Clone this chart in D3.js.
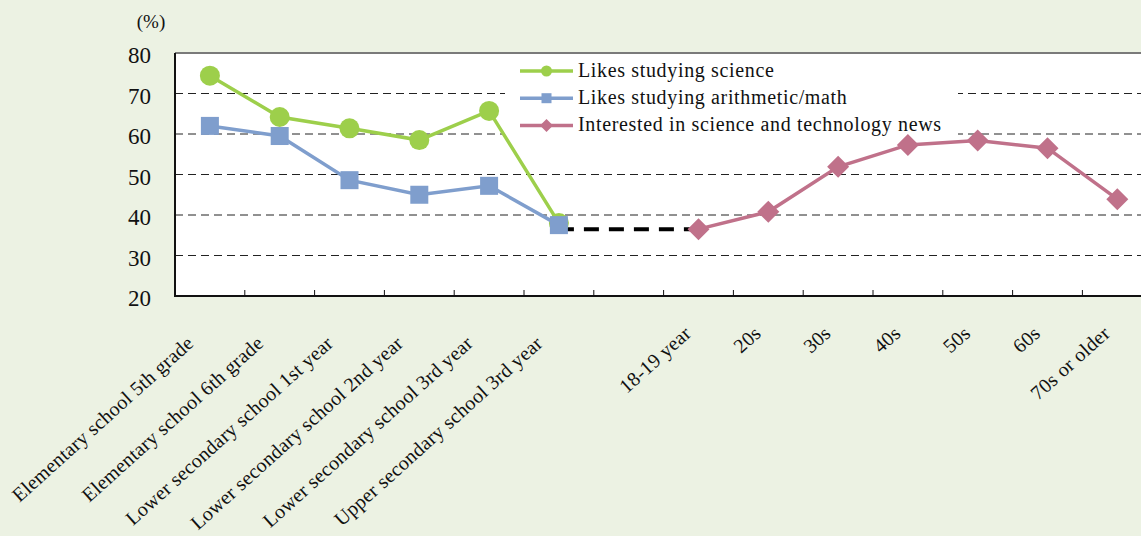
<!DOCTYPE html>
<html>
<head>
<meta charset="utf-8">
<script src="https://cdn.jsdelivr.net/npm/d3@7"></script>
<style>
  html, body { margin: 0; padding: 0; background: #ecf2e3; }
  svg { display: block; }
  text { font-family: "Liberation Serif", "Times New Roman", serif; fill: #111; }
</style>
</head>
<body>
<svg id="chart" width="1141" height="536"></svg>
<script>
// Categories along the x axis (one blank slot separates school years from adult age groups)
const categories = [
  "Elementary school 5th grade",
  "Elementary school 6th grade",
  "Lower secondary school 1st year",
  "Lower secondary school 2nd year",
  "Lower secondary school 3rd year",
  "Upper secondary school 3rd year",
  "",
  "18-19 year",
  "20s",
  "30s",
  "40s",
  "50s",
  "60s",
  "70s or older"
];

const schoolCats = categories.slice(0, 6);
const adultCats = categories.slice(7);

// Series values (%)
const likesScience = [74.4, 64.2, 61.4, 58.5, 65.7, 38.0];
const likesMath    = [62.0, 59.5, 48.6, 45.0, 47.2, 37.5];
const newsInterest = [36.5, 40.8, 51.9, 57.3, 58.4, 56.5, 43.9];

const yTicks = [20, 30, 40, 50, 60, 70, 80];
const gridValues = [30, 40, 50, 60, 70];

const seriesNames = [
  "Likes studying science",
  "Likes studying arithmetic/math",
  "Interested in science and technology news"
];

const colors = { science: "#9dcf4b", math: "#7f9ecd", news: "#c0718a" };
const serif = "'Liberation Serif', 'Times New Roman', serif";

const svg = d3.select("#chart");
const W = 1141, H = 536;
const plot = { left: 175, top: 53, bottom: 296, step: 69.8 };
plot.right = plot.left + plot.step * categories.length;

const x = d3.scaleBand().domain(categories.map((d, i) => i)).range([plot.left, plot.right]).paddingInner(0).paddingOuter(0);
const cx = i => x(i) + x.bandwidth() / 2;
const y = d3.scaleLinear().domain([20, 80]).range([plot.bottom, plot.top]);

// background
svg.append("rect").attr("width", W).attr("height", H).attr("fill", "#ecf2e3");

// plot area
svg.append("rect")
  .attr("x", plot.left).attr("y", plot.top)
  .attr("width", plot.right - plot.left).attr("height", plot.bottom - plot.top)
  .attr("fill", "#ffffff");

// top border of plot area
svg.append("line")
  .attr("x1", plot.left).attr("x2", plot.right)
  .attr("y1", plot.top).attr("y2", plot.top)
  .attr("stroke", "#7a7a7a").attr("stroke-width", 2);

// dashed gridlines
svg.append("g").selectAll("line").data(gridValues).join("line")
  .attr("x1", plot.left).attr("x2", plot.right)
  .attr("y1", d => y(d)).attr("y2", d => y(d))
  .attr("stroke", "#222").attr("stroke-width", 1)
  .attr("stroke-dasharray", "8,5");

// legend box (white, covers gridlines)
const legend = { x: 505, y: 55, w: 453, h: 85 };
svg.append("rect")
  .attr("x", legend.x).attr("y", legend.y)
  .attr("width", legend.w).attr("height", legend.h)
  .attr("fill", "#ffffff");

// y axis
const yAxis = d3.axisLeft(y).tickValues(yTicks).tickSize(0).tickPadding(0).tickFormat(d3.format("d"));
const yg = svg.append("g").attr("transform", `translate(${plot.left},0)`).call(yAxis)
  .attr("font-family", serif).attr("font-size", 23);
yg.select(".domain").remove();
yg.selectAll("text")
  .attr("x", -24).attr("dy", "0.43em")
  .style("font-family", serif)
  .style("font-size", "23px")
  .attr("fill", "#111");
svg.append("line")
  .attr("x1", plot.left).attr("x2", plot.left)
  .attr("y1", plot.top).attr("y2", plot.bottom + 1)
  .attr("stroke", "#111").attr("stroke-width", 2);

// x axis: baseline with ticks between categories
svg.append("line")
  .attr("x1", plot.left).attr("x2", plot.right)
  .attr("y1", plot.bottom).attr("y2", plot.bottom)
  .attr("stroke", "#111").attr("stroke-width", 2);
svg.append("g").selectAll("line").data(categories.map((d, i) => i).slice(1)).join("line")
  .attr("x1", i => x(i)).attr("x2", i => x(i))
  .attr("y1", plot.bottom - 6).attr("y2", plot.bottom)
  .attr("stroke", "#111").attr("stroke-width", 1);

// rotated category labels, anchored at their end just below each category centre
const labelOffset = { school: { dx: -15, dy: 49 }, adult: { dx: -6, dy: 39 } };
svg.append("g").selectAll("text").data(categories.map((d, i) => ({ d, i })).filter(o => o.d)).join("text")
  .attr("transform", o => {
    const off = o.i < 6 ? labelOffset.school : labelOffset.adult;
    return `translate(${cx(o.i) + off.dx},${plot.bottom + off.dy}) rotate(-42)`;
  })
  .attr("text-anchor", "end")
  .style("font-family", serif)
  .style("font-size", "20px")
  .style("letter-spacing", "0.25px")
  .text(o => o.d);

// "(%)" unit label
svg.append("text").attr("x", 151).attr("y", 28).attr("text-anchor", "middle")
  .style("font-family", serif).style("font-size", "19px").text("(%)");

// connector between the two survey groups
svg.append("line")
  .attr("x1", cx(5)).attr("x2", cx(7))
  .attr("y1", y(newsInterest[0])).attr("y2", y(newsInterest[0]))
  .attr("stroke", "#000").attr("stroke-width", 4)
  .attr("stroke-dasharray", "15,10");

const line = d3.line().x(d => cx(d.i)).y(d => y(d.v));
const schoolIdx = schoolCats.map((d, i) => i);
const adultIdx = adultCats.map((d, i) => i + 7);

const sci = likesScience.map((v, k) => ({ i: schoolIdx[k], v }));
const math = likesMath.map((v, k) => ({ i: schoolIdx[k], v }));
const news = newsInterest.map((v, k) => ({ i: adultIdx[k], v }));

const diamond = (s) => `M0,${-s}L${s},0L0,${s}L${-s},0Z`;

// science series
svg.append("path").datum(sci).attr("d", line)
  .attr("fill", "none").attr("stroke", colors.science).attr("stroke-width", 3.5);
svg.append("g").selectAll("circle").data(sci).join("circle")
  .attr("cx", d => cx(d.i)).attr("cy", d => y(d.v)).attr("r", 10)
  .attr("fill", colors.science);

// math series
svg.append("path").datum(math).attr("d", line)
  .attr("fill", "none").attr("stroke", colors.math).attr("stroke-width", 3.5);
svg.append("g").selectAll("rect").data(math).join("rect")
  .attr("x", d => cx(d.i) - 9).attr("y", d => y(d.v) - 9)
  .attr("width", 18).attr("height", 18)
  .attr("fill", colors.math);

// news series
svg.append("path").datum(news).attr("d", line)
  .attr("fill", "none").attr("stroke", colors.news).attr("stroke-width", 3.5);
svg.append("g").selectAll("path").data(news).join("path")
  .attr("transform", d => `translate(${cx(d.i)},${y(d.v)})`)
  .attr("d", diamond(11))
  .attr("fill", colors.news);

// legend entries
const rows = [
  { name: seriesNames[0], color: colors.science, shape: "circle" },
  { name: seriesNames[1], color: colors.math, shape: "square" },
  { name: seriesNames[2], color: colors.news, shape: "diamond" }
];
const lg = svg.append("g");
rows.forEach((r, k) => {
  const ry = 71 + k * 27.2;
  lg.append("line").attr("x1", 520).attr("x2", 573).attr("y1", ry).attr("y2", ry)
    .attr("stroke", r.color).attr("stroke-width", 3.5);
  if (r.shape === "circle") {
    lg.append("circle").attr("cx", 546.5).attr("cy", ry).attr("r", 5.5).attr("fill", r.color);
  } else if (r.shape === "square") {
    lg.append("rect").attr("x", 541.5).attr("y", ry - 5).attr("width", 10).attr("height", 10).attr("fill", r.color);
  } else {
    lg.append("path").attr("transform", `translate(546.5,${ry})`).attr("d", diamond(6.5)).attr("fill", r.color);
  }
  lg.append("text").attr("x", 578).attr("y", ry + 6)
    .style("font-family", serif)
    .style("font-size", "20px").style("letter-spacing", "0.65px").text(r.name);
});
</script>
</body>
</html>
